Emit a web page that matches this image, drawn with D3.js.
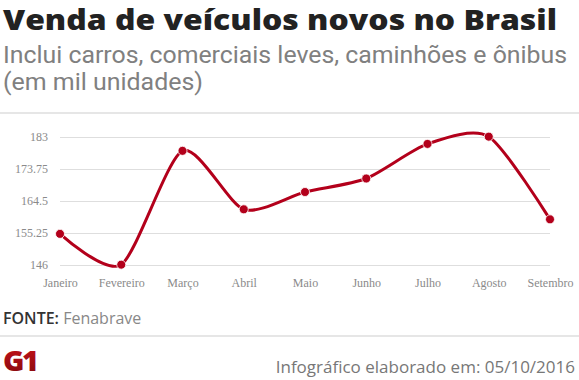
<!DOCTYPE html>
<html><head><meta charset="utf-8">
<script src="https://cdn.jsdelivr.net/npm/d3@7"></script>
<style>
html,body{margin:0;padding:0;background:#fff;}
svg{display:block;}
</style></head>
<body>
<script>
const months = ["Janeiro","Fevereiro","Março","Abril","Maio","Junho","Julho","Agosto","Setembro"];
const sales = [155.0, 146.1, 179.0, 162.1, 167.1, 171.0, 181.0, 183.1, 159.2];
const yTicks = [146, 155.25, 164.5, 173.75, 183];
const yTickLabels = ["146","155.25","164.5","173.75","183"];
const title = "Venda de veículos novos no Brasil";
const subtitle1 = "Inclui carros, comerciais leves, caminhões e ônibus";
const subtitle2 = "(em mil unidades)";
const sourceLabel = "FONTE:";
const sourceName = "Fenabrave";
const credit = "Infográfico elaborado em: 05/10/2016";

const W = 579, H = 380;
const svg = d3.select("body").append("svg").attr("width", W).attr("height", H);

const defs = svg.append("defs");
const grad = defs.append("linearGradient").attr("id","g1grad").attr("x1",0).attr("y1",0).attr("x2",0).attr("y2",1);
grad.append("stop").attr("offset","0%").attr("stop-color","#d0121b");
grad.append("stop").attr("offset","100%").attr("stop-color","#7e0a0e");

// Title block
svg.append("text").attr("x",3).attr("y",29.5)
  .attr("font-family","'Open Sans', sans-serif").attr("font-weight",800)
  .attr("font-size",27.5).attr("fill","#222")
  .attr("textLength",554).attr("lengthAdjust","spacingAndGlyphs").text(title);
svg.append("text").attr("x",3).attr("y",62.5)
  .attr("font-family","Roboto, 'Open Sans', sans-serif").attr("font-weight",400)
  .attr("font-size",23).attr("fill","#808080")
  .attr("textLength",564).attr("lengthAdjust","spacingAndGlyphs").text(subtitle1);
svg.append("text").attr("x",3).attr("y",89.5)
  .attr("font-family","Roboto, 'Open Sans', sans-serif").attr("font-weight",400)
  .attr("font-size",23).attr("fill","#808080")
  .attr("textLength",200).attr("lengthAdjust","spacingAndGlyphs").text(subtitle2);

// separators
svg.append("line").attr("x1",0).attr("x2",W).attr("y1",113).attr("y2",113)
  .attr("stroke","#e6e6e6").attr("stroke-width",2);
svg.append("line").attr("x1",0).attr("x2",W).attr("y1",336).attr("y2",336)
  .attr("stroke","#e6e6e6").attr("stroke-width",2);

// chart
const x = d3.scalePoint().domain(months).range([60,550]).padding(0);
const y = d3.scaleLinear().domain([146,183]).range([265,137]);

const gy = svg.append("g").attr("transform","translate(60,0)")
  .call(d3.axisLeft(y).tickValues(yTicks).tickFormat((d,i)=>yTickLabels[i]).tickSize(-490).tickPadding(12));
gy.select(".domain").remove();
gy.selectAll(".tick line").attr("stroke","#dedede").attr("stroke-width",1);
gy.selectAll(".tick text").attr("font-family","'Liberation Serif', 'Times New Roman', serif")
  .attr("font-size",12).attr("fill","#8a8a8a");

const gx = svg.append("g").attr("transform","translate(0,265)")
  .call(d3.axisBottom(x).tickSize(0).tickPadding(13));
gx.select(".domain").remove();
gx.selectAll(".tick text").attr("font-family","'Liberation Serif', 'Times New Roman', serif")
  .attr("font-size",12).attr("fill","#8a8a8a");

const line = d3.line().x((d,i)=>x(months[i])).y(d=>y(d)).curve(d3.curveCardinal.tension(0.25));
svg.append("path").datum(sales).attr("d",line).attr("fill","none")
  .attr("stroke","#b3001b").attr("stroke-width",3);
svg.selectAll("circle.pt").data(sales).enter().append("circle").attr("class","pt")
  .attr("cx",(d,i)=>x(months[i])).attr("cy",d=>y(d)).attr("r",4.5)
  .attr("fill","#b3001b").attr("stroke","#fff").attr("stroke-width",0.8);

// footer
const src = svg.append("text").attr("x",3).attr("y",324)
  .attr("font-family","'Open Sans', sans-serif").attr("font-size",16);
src.append("tspan").attr("font-weight",600).attr("fill","#333").text(sourceLabel + " ");
src.append("tspan").attr("fill","#888").text(sourceName);

svg.append("text").attr("x",3).attr("y",371)
  .attr("font-family","'Open Sans', sans-serif").attr("font-weight",800)
  .attr("font-size",29).attr("letter-spacing",-2.5).attr("fill","url(#g1grad)").text("G1");

svg.append("text").attr("x",575).attr("y",373).attr("text-anchor","end")
  .attr("font-family","'Open Sans', sans-serif").attr("font-size",17)
  .attr("fill","#777").text(credit);
</script>
</body></html>
